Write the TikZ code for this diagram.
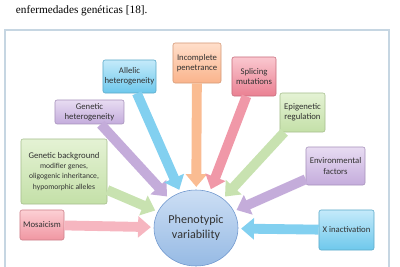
\documentclass[tikz,border=0pt]{standalone}
\usepackage{fontspec}
\setmainfont{Carlito}
\newfontfamily\captionfont{Liberation Serif}
\usepackage{xcolor}
\usetikzlibrary{positioning, shapes.geometric, arrows.meta}

\definecolor{framegray}{RGB}{198,214,226}
\definecolor{boxtext}{RGB}{50,50,50}
% box fills (top / bottom)
\definecolor{redtop}{RGB}{252,208,212}
\definecolor{redbot}{RGB}{240,150,162}
\definecolor{greentop}{RGB}{228,242,212}
\definecolor{greenbot}{RGB}{196,224,168}
\definecolor{lilactop}{RGB}{232,220,242}
\definecolor{lilacbot}{RGB}{196,172,220}
\definecolor{bluetop}{RGB}{196,234,250}
\definecolor{bluebot}{RGB}{110,200,236}
\definecolor{orangetop}{RGB}{255,222,202}
\definecolor{orangebot}{RGB}{250,180,140}
\definecolor{pinktop}{RGB}{250,200,208}
\definecolor{pinkbot}{RGB}{234,128,146}
\definecolor{pvtop}{RGB}{204,222,244}
\definecolor{pvbot}{RGB}{150,186,228}
\definecolor{pvborder}{RGB}{110,150,205}
% arrow colours
\definecolor{redarrow}{RGB}{246,182,192}
\definecolor{greenarrow}{RGB}{200,226,176}
\definecolor{lilacarrow}{RGB}{196,172,218}
\definecolor{bluearrow}{RGB}{130,208,240}
\definecolor{orangearrow}{RGB}{250,188,146}
\definecolor{pinkarrow}{RGB}{240,152,168}

\begin{document}
\begin{tikzpicture}[x=0.025cm, y=-0.025cm,
    box/.style={draw=#1bot!85!black, rounded corners=1.5pt, top color=#1top, bottom color=#1bot,
      align=center, inner sep=1pt, text=boxtext, font=\fontsize{6.2}{7.2}\selectfont},
    flow/.style={draw=#1arrow, line width=7pt, -{Triangle[length=0.32cm, width=0.52cm]}, shorten >=2pt}]
    \useasboundingbox (0,0) rectangle (400,267);
    \draw[framegray, line width=0.8pt] (5,267) -- (5,30) -- (389,30) -- (389,267);
    \node[anchor=base west, font=\captionfont\fontsize{8}{9}\selectfont] (cap) at (11,14) {enfermedades genéticas [18].};

    \node[ellipse, draw=pvborder, top color=pvtop, bottom color=pvbot, minimum width=2.1cm, minimum height=1.9cm,
      inner sep=0pt, align=center, text=boxtext, font=\fontsize{8.6}{10.6}\selectfont] (pv) at (196,228) {Phenotypic\\variability};

    \node[box=red, minimum width=1.1cm, minimum height=0.75cm] (mosaic) at (42,225) {Mosaicism};
    \node[box=green, minimum width=2.15cm, minimum height=1.625cm] (genbg) at (64,171.5)
      {Genetic background\\{\fontsize{5.4}{6.7}\selectfont modifier genes,}\\{\fontsize{5.4}{6.7}\selectfont oligogenic inheritance,}\\{\fontsize{5.4}{6.7}\selectfont hypomorphic alleles}};
    \node[box=lilac, minimum width=1.725cm, minimum height=0.6cm] (genhet) at (89.5,112) {Genetic\\heterogeneity};
    \node[box=blue, minimum width=1.325cm, minimum height=0.825cm] (allelic) at (129.5,76.5) {Allelic\\heterogeneity};
    \node[box=orange, minimum width=1.2cm, minimum height=1cm] (incpen) at (197,63) {Incomplete\\penetrance};
    \node[box=pink, minimum width=1.1cm, minimum height=0.975cm] (splice) at (254,76.5) {Splicing\\mutations};
    \node[box=green, minimum width=1.125cm, minimum height=0.975cm] (epigen) at (302.5,112.5) {Epigenetic\\regulation};
    \node[box=lilac, minimum width=1.475cm, minimum height=0.95cm] (envir) at (335.5,166) {Environmental\\factors};
    \node[box=blue, minimum width=1.375cm, minimum height=1cm] (xinact) at (346.5,230) {X inactivation};

    \draw[flow=red] (mosaic) -- (pv);
    \draw[flow=green] (genbg) -- (pv);
    \draw[flow=lilac] (genhet) -- (pv);
    \draw[flow=blue] (allelic) -- (pv);
    \draw[flow=orange] (incpen) -- (pv);
    \draw[flow=pink] (splice) -- (pv);
    \draw[flow=green] (epigen) -- (pv);
    \draw[flow=lilac] (envir) -- (pv);
    \draw[flow=blue] (xinact) -- (pv);
\end{tikzpicture}
\end{document}
